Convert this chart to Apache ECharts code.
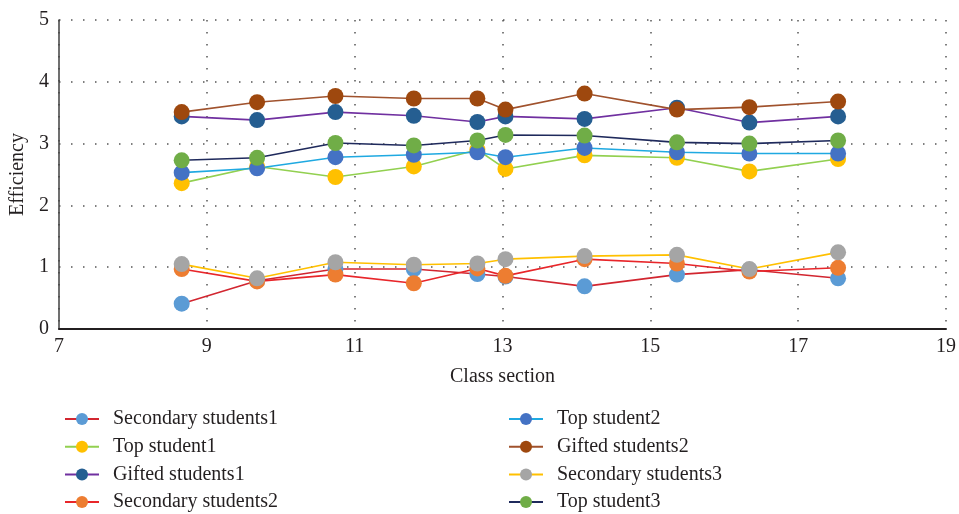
<!DOCTYPE html>
<html>
<head>
<meta charset="utf-8">
<script src="https://cdn.jsdelivr.net/npm/echarts@6/dist/echarts.min.js"></script>
<style>
  html, body { margin: 0; padding: 0; background: #fff; }
  #chart { width: 959px; height: 514px; }
</style>
</head>
<body>
<div id="chart"></div>
<script>
// class section positions shared by every series
const classSection = [8.66, 9.68, 10.74, 11.80, 12.66, 13.04, 14.11, 15.36, 16.34, 17.54]

const secondary1 = [0.41, 0.78, 0.97, 0.97, 0.89, 0.85, 0.69, 0.88, 0.96, 0.82]
const top1 = [2.36, 2.63, 2.46, 2.63, 2.90, 2.59, 2.81, 2.77, 2.55, 2.75]
const gifted1 = [3.44, 3.38, 3.51, 3.45, 3.35, 3.44, 3.40, 3.58, 3.34, 3.44]
const secondary2 = [0.97, 0.77, 0.88, 0.74, 0.98, 0.86, 1.13, 1.06, 0.93, 0.99]
const top2 = [2.53, 2.60, 2.78, 2.82, 2.86, 2.78, 2.93, 2.86, 2.84, 2.84]
const gifted2 = [3.51, 3.67, 3.77, 3.73, 3.73, 3.55, 3.81, 3.55, 3.59, 3.68]
const secondary3 = [1.05, 0.82, 1.08, 1.04, 1.06, 1.13, 1.18, 1.20, 0.97, 1.24]
const top3 = [2.73, 2.77, 3.01, 2.97, 3.05, 3.14, 3.13, 3.02, 3.00, 3.05]

const seriesNames = [
  'Secondary students1', 'Top student1', 'Gifted students1', 'Secondary students2',
  'Top student2', 'Gifted students2', 'Secondary students3', 'Top student3'
]
const seriesValues = [secondary1, top1, gifted1, secondary2, top2, gifted2, secondary3, top3]
const lineColors = ['#d22630', '#92d050', '#7030a0', '#e8262a', '#1fa9e1', '#a0522d', '#ffc000', '#1f2a5c']
const markerColors = ['#5b9bd5', '#ffc000', '#255e91', '#ed7d31', '#4472c4', '#9e480e', '#a5a5a5', '#70ad47']

const font = 'Liberation Serif'
const textColor = '#231f20'
const dotted = { color: '#555', width: 1.5, type: [1.5, 10.5] }

const chart = echarts.init(document.getElementById('chart'))

const legendBase = {
  orient: 'vertical',
  top: 404,
  height: 140,
  itemWidth: 34,
  itemHeight: 15,
  itemGap: 7.7,
  textStyle: { fontFamily: font, fontSize: 20, color: textColor, padding: [0, 0, 0, 9] }
}

chart.setOption({
  animation: false,
  grid: { left: 59, right: 12, top: 20, bottom: 185 },
  legend: [
    Object.assign({ left: 59, data: seriesNames.slice(0, 4) }, legendBase),
    Object.assign({ left: 503, data: seriesNames.slice(4) }, legendBase)
  ],
  xAxis: {
    type: 'value',
    min: 7,
    max: 19,
    interval: 2,
    name: 'Class section',
    nameLocation: 'middle',
    nameGap: 38,
    nameTextStyle: { fontFamily: font, fontSize: 20, color: textColor },
    axisLine: { lineStyle: { color: textColor, width: 2 } },
    axisTick: { show: false },
    axisLabel: { fontFamily: font, fontSize: 20, color: textColor, margin: 8 },
    splitLine: { show: true, lineStyle: dotted }
  },
  yAxis: {
    type: 'value',
    min: 0,
    max: 5,
    interval: 1,
    name: 'Efficiency',
    nameLocation: 'middle',
    nameGap: 27,
    nameTextStyle: { fontFamily: font, fontSize: 20, color: textColor },
    axisLine: { show: true, lineStyle: { color: '#404040', width: 1.5 } },
    axisTick: { show: false },
    axisLabel: { fontFamily: font, fontSize: 20, color: textColor, margin: 10 },
    splitLine: { show: true, lineStyle: dotted }
  },
  series: seriesNames.map((name, i) => ({
    name: name,
    type: 'line',
    data: classSection.map((x, j) => [x, seriesValues[i][j]]),
    symbol: 'circle',
    symbolSize: 16,
    lineStyle: { color: lineColors[i], width: 1.6 },
    itemStyle: { color: markerColors[i] }
  }))
})
</script>
</body>
</html>
